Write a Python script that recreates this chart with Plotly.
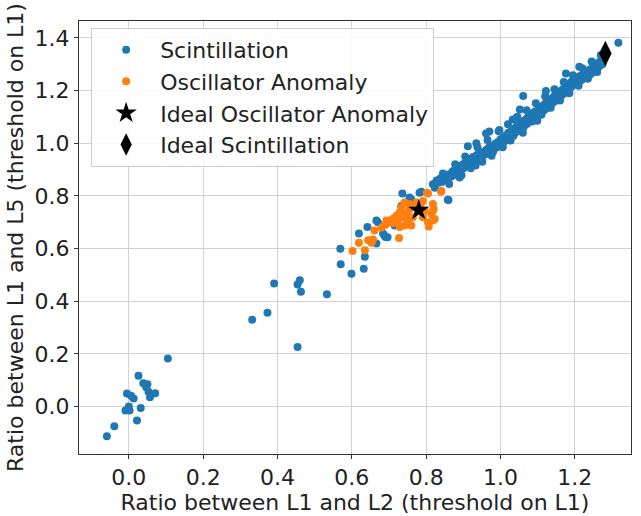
import plotly.graph_objects as go

# ---- data ----
scint_x = [
    # lower-left cluster
    -0.059, -0.039, 0.022, -0.009, 0.002, 0.000, 0.032, -0.005, 0.006, 0.013,
    0.026, 0.039, 0.050, 0.047, 0.053, 0.071, 0.057, 0.105,
    # middle scatter
    0.332, 0.373, 0.391, 0.454, 0.460, 0.463, 0.533, 0.454,
    # 0.55 - 0.87
    0.569, 0.570, 0.599, 0.632, 0.635, 0.619, 0.642, 0.666, 0.670, 0.684,
    0.691, 0.715, 0.666, 0.736, 0.755, 0.760, 0.733, 0.787, 0.782, 0.823,
    0.818, 0.831, 0.845, 0.872, 0.858, 0.860, 0.836, 0.696, 0.688,
    # main band
    0.822, 0.828, 0.833, 0.838, 0.842, 0.847, 0.851, 0.856, 0.860, 0.864,
    0.868, 0.872, 0.876, 0.880, 0.884, 0.887, 0.890, 0.893, 0.897, 0.900,
    0.904, 0.907, 0.911, 0.915, 0.918, 0.922, 0.926, 0.929, 0.933, 0.936,
    0.940, 0.944, 0.947, 0.951, 0.955, 0.958, 0.962, 0.965, 0.969, 0.972,
    0.976, 0.979, 0.983, 0.986, 0.990, 0.993, 0.997, 1.000, 1.003, 1.006,
    1.009, 1.012, 1.015, 1.018, 1.021, 1.024, 1.027, 1.030, 1.033, 1.036,
    1.039, 1.042, 1.045, 1.048, 1.051, 1.054, 1.057, 1.060, 1.063, 1.066,
    1.069, 1.072, 1.075, 1.078, 1.081, 1.084, 1.087, 1.090, 1.093, 1.096,
    1.099, 1.102, 1.105, 1.108, 1.111, 1.114, 1.117, 1.120, 1.123, 1.126,
    1.129, 1.132, 1.135, 1.138, 1.141, 1.144, 1.147, 1.150, 1.153, 1.156,
    1.159, 1.162, 1.165, 1.168, 1.171, 1.174, 1.177, 1.180, 1.183, 1.186,
    1.189, 1.192, 1.195, 1.198, 1.202, 1.206, 1.210, 1.214, 1.218, 1.222,
    1.226, 1.230, 1.234, 1.238, 1.242, 1.246, 1.250, 1.254, 1.258, 1.262,
    1.266, 1.270, 1.274, 1.278, 1.317,
    # band edges / outliers
    1.052, 1.122, 1.176, 1.212, 0.935, 0.997, 1.033, 0.912, 0.961, 0.970, 1.061,
    # outer edges of the band
    0.845, 0.862, 0.878, 0.895, 0.905, 0.920, 0.938, 0.950, 0.965, 0.980,
    0.995, 1.005, 1.020, 1.035, 1.045, 1.060, 1.070, 1.085, 1.095, 1.110,
    1.120, 1.135, 1.145, 1.160, 1.170, 1.185, 1.195, 1.210, 1.220, 1.235,
    1.245, 1.260, 1.270,
]
scint_y = [
    -0.113, -0.075, -0.053, -0.015, -0.015, 0.000, -0.005, 0.050, 0.041, 0.031,
    0.117, 0.089, 0.085, 0.073, 0.056, 0.051, 0.035, 0.183,
    0.330, 0.356, 0.467, 0.464, 0.480, 0.436, 0.427, 0.226,
    0.599, 0.540, 0.504, 0.523, 0.569, 0.657, 0.682, 0.619, 0.700, 0.657,
    0.644, 0.688, 0.707, 0.809, 0.794, 0.787, 0.762, 0.816, 0.812, 0.831,
    0.844, 0.857, 0.863, 0.894, 0.785, 0.784, 0.856, 0.643, 0.649,
    0.845, 0.858, 0.850, 0.866, 0.853, 0.872, 0.860, 0.878, 0.868, 0.884,
    0.874, 0.893, 0.880, 0.902, 0.888, 0.910, 0.870, 0.896, 0.918, 0.905,
    0.925, 0.912, 0.935, 0.920, 0.940, 0.928, 0.948, 0.935, 0.915, 0.955,
    0.942, 0.962, 0.950, 0.930, 0.968, 0.957, 0.975, 0.962, 0.985, 0.970,
    0.952, 0.990, 0.978, 0.998, 0.985, 1.005, 0.992, 1.015, 1.000, 0.985,
    1.022, 1.008, 1.030, 1.016, 1.040, 1.025, 1.010, 1.048, 1.032, 1.055,
    1.040, 1.062, 1.045, 1.070, 1.052, 1.078, 1.060, 1.040, 1.085, 1.068,
    1.092, 1.075, 1.100, 1.082, 1.108, 1.090, 1.115, 1.098, 1.120, 1.105,
    1.085, 1.128, 1.112, 1.135, 1.118, 1.142, 1.125, 1.150, 1.132, 1.155,
    1.140, 1.162, 1.148, 1.170, 1.155, 1.178, 1.160, 1.185, 1.168, 1.190,
    1.175, 1.198, 1.182, 1.205, 1.190, 1.212, 1.198, 1.220, 1.205, 1.228,
    1.212, 1.235, 1.220, 1.240, 1.225, 1.248, 1.232, 1.255, 1.240, 1.262,
    1.248, 1.270, 1.255, 1.278, 1.262, 1.285, 1.270, 1.292, 1.280, 1.305,
    1.292, 1.315, 1.300, 1.325, 1.381,
    1.128, 1.198, 1.265, 1.290, 1.000, 1.050, 1.090, 0.988, 1.037, 1.044, 1.179,
    0.885, 0.845, 0.920, 0.878, 0.950, 0.905, 0.985, 0.935, 1.012, 0.968,
    1.045, 0.995, 1.072, 1.028, 1.100, 1.055, 1.125, 1.082, 1.152, 1.108,
    1.178, 1.135, 1.205, 1.162, 1.232, 1.190, 1.258, 1.218, 1.285, 1.245,
    1.310, 1.270, 1.335,
]

osc_x = [
    0.602, 0.619, 0.635, 0.644, 0.657, 0.653, 0.661, 0.697, 0.711, 0.724,
    0.702, 0.727, 0.729, 0.755, 0.755, 0.742, 0.733, 0.729, 0.720, 0.711,
    0.702, 0.693, 0.738, 0.751, 0.764, 0.760, 0.742, 0.729, 0.791, 0.796,
    0.773, 0.791, 0.841, 0.805, 0.818, 0.820, 0.814, 0.818, 0.807, 0.802,
    0.840, 0.818, 0.823, 0.805, 0.770, 0.785, 0.748, 0.690, 0.680,
]
osc_y = [
    0.591, 0.622, 0.594, 0.632, 0.634, 0.622, 0.669, 0.700, 0.697, 0.707,
    0.699, 0.640, 0.730, 0.749, 0.769, 0.775, 0.757, 0.738, 0.725, 0.713,
    0.707, 0.707, 0.719, 0.707, 0.719, 0.688, 0.688, 0.682, 0.719, 0.744,
    0.775, 0.781, 0.819, 0.809, 0.769, 0.750, 0.731, 0.707, 0.684, 0.812,
    0.816, 0.743, 0.712, 0.699, 0.760, 0.765, 0.735, 0.690, 0.680,
]

ideal_osc_x = [0.780]
ideal_osc_y = [0.746]
ideal_scint_x = [1.282]
ideal_scint_y = [1.341]

x_ticks = [0.0, 0.2, 0.4, 0.6, 0.8, 1.0, 1.2]
y_ticks = [0.0, 0.2, 0.4, 0.6, 0.8, 1.0, 1.2, 1.4]

BLUE = "#1f77b4"
ORANGE = "#ff7f0e"
FONT = "DejaVu Sans"
FS = 22

fig = go.Figure()
fig.add_trace(go.Scatter(x=scint_x, y=scint_y, mode="markers", name="Scintillation",
                         marker=dict(color=BLUE, size=8, line=dict(width=0))))
fig.add_trace(go.Scatter(x=osc_x, y=osc_y, mode="markers", name="Oscillator Anomaly",
                         marker=dict(color=ORANGE, size=8, line=dict(width=0))))
fig.add_trace(go.Scatter(x=ideal_osc_x, y=ideal_osc_y, mode="markers",
                         name="Ideal Oscillator Anomaly",
                         marker=dict(color="black", size=16, symbol="star", line=dict(width=0))))
fig.add_trace(go.Scatter(x=ideal_scint_x, y=ideal_scint_y, mode="markers",
                         name="Ideal Scintillation",
                         marker=dict(color="black", size=18, symbol="diamond-tall",
                                     line=dict(width=0))))

axis_common = dict(
    showgrid=True, gridcolor="#d3d3d3", gridwidth=1, zeroline=False,
    showline=True, linecolor="#333333", linewidth=1, mirror=True,
    ticks="outside", ticklen=4, tickcolor="#333333",
    tickfont=dict(family=FONT, size=FS, color="#222222"),
    title_font=dict(family=FONT, size=FS, color="#222222"),
)

fig.update_layout(
    width=641, height=516,
    margin=dict(l=79, r=9, t=21, b=56),
    paper_bgcolor="white", plot_bgcolor="white",
    font=dict(family=FONT, size=FS, color="#222222"),
    showlegend=True,
    legend=dict(x=0.022, y=0.984, xanchor="left", yanchor="top",
                bgcolor="rgba(255,255,255,0.85)", bordercolor="#cccccc", borderwidth=1,
                font=dict(family=FONT, size=FS, color="#222222"),
                itemwidth=58),
    xaxis=dict(range=[-0.134, 1.351], tickvals=x_ticks,
               ticktext=[f"{v:.1f}" for v in x_ticks], automargin=True,
               title=dict(text="Ratio between L1 and L2 (threshold on L1)", standoff=1),
               **axis_common),
    yaxis=dict(range=[-0.18, 1.464], tickvals=y_ticks,
               ticktext=[f"{v:.1f}" for v in y_ticks], automargin=True,
               title=dict(text="Ratio between L1 and L5 (threshold on L1)", standoff=4),
               **axis_common),
)

fig.write_html("out.html")
